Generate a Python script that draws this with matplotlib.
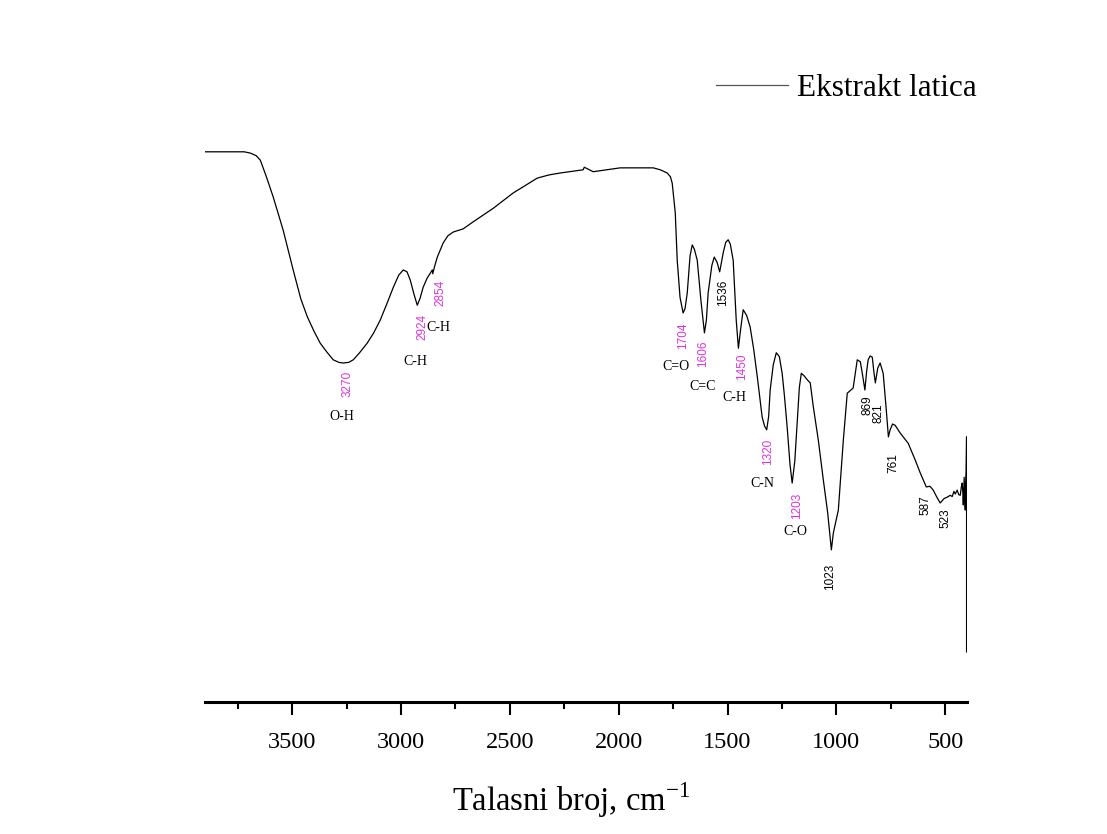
import numpy as np
import matplotlib
matplotlib.use('Agg')
import matplotlib.pyplot as plt

plt.rcParams['mathtext.fontset'] = 'custom'
plt.rcParams['mathtext.rm'] = 'Liberation Serif'

# FTIR spectrum (wavenumber, transmittance %)
wavenumber = [3900, 3784, 3720, 3692, 3665, 3646, 3620, 3587, 3541, 3495,
              3460, 3430, 3400, 3371, 3340, 3311, 3285, 3265, 3240, 3219,
              3190, 3155, 3125, 3095, 3065, 3035, 3010, 2989, 2972, 2957,
              2940, 2925, 2912, 2898, 2880, 2865, 2856, 2854, 2845, 2833,
              2806, 2785, 2760, 2714, 2668, 2576, 2484, 2374, 2320, 2268,
              2163, 2158, 2117, 1993, 1841, 1809, 1777, 1762, 1754, 1740,
              1731, 1718, 1704, 1695, 1685, 1672, 1662, 1652, 1639, 1622,
              1606, 1597, 1589, 1572, 1561, 1548, 1536, 1519, 1508, 1497,
              1487, 1474, 1460, 1450, 1440, 1428, 1412, 1396, 1380, 1363,
              1341, 1330, 1320, 1311, 1304, 1290, 1276, 1262, 1249, 1238,
              1226, 1213, 1203, 1191, 1180, 1170, 1161, 1148, 1134, 1120,
              1106, 1083, 1060, 1040, 1023, 1014, 991, 968, 950, 923,
              912, 904, 890, 880, 869, 861, 854, 845, 835, 828,
              821, 810, 799, 785, 772, 761, 753, 742, 730, 707,
              670, 638, 615, 587, 570, 555, 540, 523, 505, 491,
              477, 468, 460, 454, 445, 438, 431, 426, 422, 419,
              417, 415, 413, 410, 408, 406, 404, 402, 402]
transmittance = [85.7, 85.7, 85.7, 85.5, 85.1, 84.4, 82.0, 78.7, 73.5, 67.3,
                 62.8, 60.0, 57.8, 55.9, 54.5, 53.3, 52.9, 52.8, 52.9, 53.3,
                 54.4, 55.9, 57.5, 59.5, 62.0, 64.6, 66.5, 67.3, 67.0, 65.7,
                 63.5, 61.8, 62.9, 64.6, 66.0, 66.8, 67.3, 66.7, 67.9, 69.3,
                 71.5, 72.6, 73.2, 73.7, 74.8, 76.9, 79.3, 81.6, 82.1, 82.4,
                 82.9, 83.3, 82.6, 83.2, 83.2, 82.9, 82.4, 81.8, 80.8, 76.2,
                 68.8, 63.0, 60.6, 61.3, 63.7, 69.5, 71.2, 70.5, 68.8, 62.5,
                 57.5, 59.5, 63.7, 68.0, 69.3, 68.5, 67.0, 70.1, 71.6, 72.0,
                 71.3, 68.8, 59.5, 55.1, 58.0, 61.1, 60.2, 58.4, 55.0, 50.6,
                 44.4, 43.0, 42.4, 44.5, 48.6, 52.5, 54.4, 53.8, 51.2, 47.5,
                 42.8, 37.0, 34.1, 37.5, 43.5, 49.0, 51.2, 50.8, 50.2, 49.7,
                 46.0, 40.8, 34.6, 29.5, 23.7, 26.3, 29.9, 40.8, 48.1, 48.9,
                 51.5, 53.3, 53.0, 51.0, 48.6, 51.5, 53.3, 53.9, 53.7, 51.5,
                 49.7, 52.0, 52.8, 51.2, 46.0, 41.3, 42.4, 43.3, 43.1, 41.9,
                 40.3, 37.7, 35.7, 33.5, 33.6, 33.0, 32.0, 31.0, 31.7, 31.9,
                 32.2, 32.0, 32.8, 32.4, 33.0, 32.3, 32.2, 33.5, 34.1, 32.5,
                 30.7, 33.0, 35.0, 31.5, 29.9, 34.0, 36.1, 41.3, 7.8]

# peak number labels: (text, x, y, colour)
peak_text = ['3270', '2924', '2854', '1704', '1606', '1536', '1450', '1320',
             '1203', '1023', '869', '821', '761', '587', '523']
peak_x = [3247, 2902, 2819, 1703, 1611, 1520, 1432, 1313, 1180, 1028, 858, 808, 739, 592, 500]
peak_y = [49.5, 58.4, 63.7, 57.0, 54.2, 63.7, 52.2, 38.9, 30.5, 19.5, 46.3, 45.0, 37.2, 30.7, 28.7]
peak_magenta = [True, True, True, True, True, False, True, True, True, False,
                False, False, False, False, False]

# bond assignment labels
bond_text = ['O-H', 'C-H', 'C-H', 'C=O', 'C=C', 'C-H', 'C-N', 'C-O']
bond_x = [3270, 2934, 2829, 1736, 1616, 1469, 1341, 1189]
bond_y = [44.4, 53.0, 58.4, 52.3, 49.1, 47.4, 34.1, 26.5]

W, H = 1107, 834
fig = plt.figure(figsize=(W / 100, H / 100), dpi=100)
ax = fig.add_axes([205 / W, 1 - 702 / H, (967 - 205) / W, (702 - 60) / H])

ax.plot(wavenumber, transmittance, color='black', lw=0.9, label='Ekstrakt latica')

for t, x, y, m in zip(peak_text, peak_x, peak_y, peak_magenta):
    ax.text(x, y, t, rotation=90, ha='center', va='center', fontsize=8.5,
            family='Liberation Sans', color='#dd33dd' if m else 'black')
for t, x, y in zip(bond_text, bond_x, bond_y):
    ax.text(x, y, t, ha='center', va='center', fontsize=10,
            family='Liberation Serif', color='black')

ax.set_xlim(3900, 400)
ax.set_ylim(0, 100)
ax.set_xticks([3500, 3000, 2500, 2000, 1500, 1000, 500])
ax.set_xticks([3750, 3250, 2750, 2250, 1750, 1250, 750], minor=True)
ax.set_yticks([])
for s in ['top', 'left', 'right']:
    ax.spines[s].set_visible(False)
ax.spines['bottom'].set_linewidth(2.2)
ax.tick_params(axis='x', which='major', direction='out', length=9.5, width=1.5,
               labelsize=17.5, pad=12)
ax.tick_params(axis='x', which='minor', direction='out', length=5, width=1.5)
for lab in ax.get_xticklabels():
    lab.set_family('Liberation Serif')

ax.set_xlabel('Talasni broj, cm$^{\\mathregular{-1}}$', fontsize=23.5,
              family='Liberation Serif')
ax.xaxis.set_label_coords((571 - 205) / 762, -(800 - 702) / 642)
ax.xaxis.label.set_va('center')

leg = ax.legend(loc='center left', bbox_to_anchor=(716 / W, 1 - 88 / H),
                bbox_transform=fig.transFigure, frameon=False, borderpad=0,
                borderaxespad=0, handlelength=2.3, handletextpad=0.3,
                prop={'family': 'Liberation Serif', 'size': 22.5})
leg.get_lines()[0].set_color('#555555')

fig.savefig('out.png', dpi=100)
